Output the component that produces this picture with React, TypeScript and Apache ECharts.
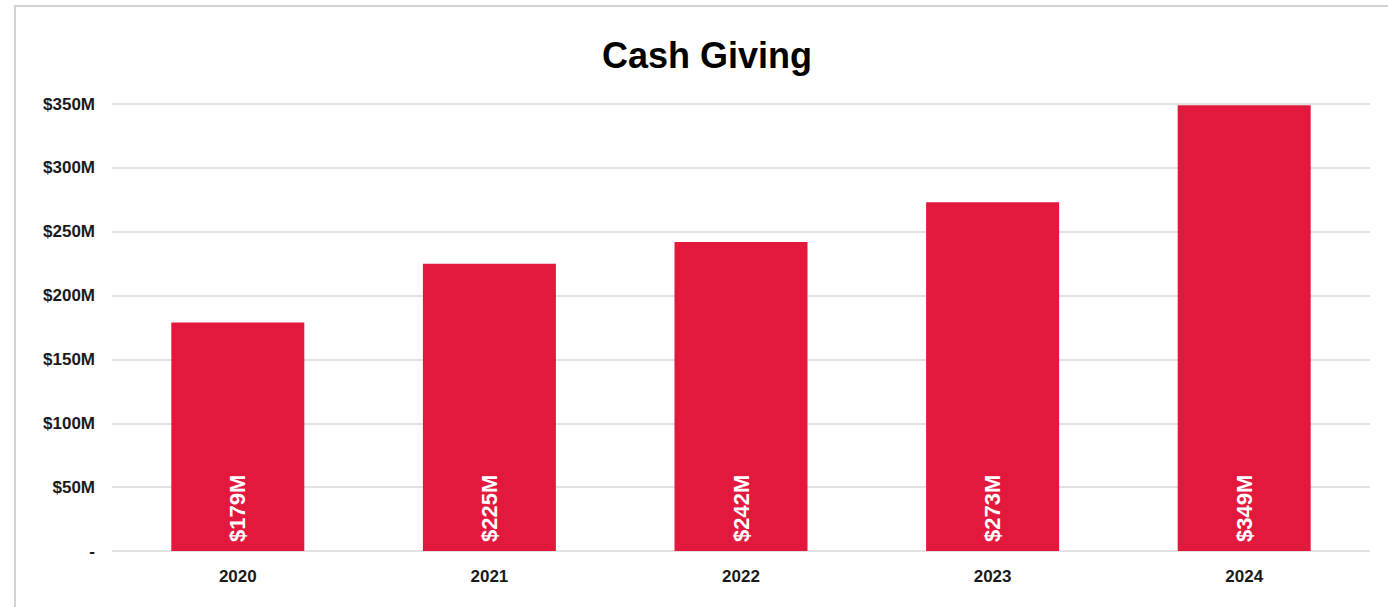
import React, { useEffect, useRef } from "react";
import * as echarts from "echarts";

const categories = ["2020", "2021", "2022", "2023", "2024"];
const cashGiving = [179, 225, 242, 273, 349];
const yTicks = [0, 50, 100, 150, 200, 250, 300, 350];
const yTickLabels = ["-", "$50M", "$100M", "$150M", "$200M", "$250M", "$300M", "$350M"];
const titleText = "Cash Giving";

export default function App() {
  const ref = useRef<HTMLDivElement>(null);
  useEffect(() => {
    if (!ref.current) return;
    const chart = echarts.init(ref.current, null, { renderer: "svg" });
    const font = "Liberation Sans, Arial, Helvetica, sans-serif";
    chart.setOption({
      animation: false,
      backgroundColor: "#ffffff",
      textStyle: { fontFamily: font },
      title: {
        text: titleText,
        left: 702,
        top: 32,
        textAlign: "center",
        textStyle: { fontSize: 36, fontWeight: "bold", color: "#000000", fontFamily: font },
      },
      graphic: [
        {
          type: "rect",
          shape: { x: 15, y: 6, width: 1400, height: 620 },
          style: { fill: "none", stroke: "#d4d4d4", lineWidth: 2 },
          silent: true,
          z: -1,
        },
      ],
      grid: { left: 112, right: 18, top: 104, bottom: 56, containLabel: false },
      xAxis: {
        type: "category",
        data: categories,
        axisLine: { show: false },
        axisTick: { show: false },
        axisLabel: { color: "#1a1a1a", fontSize: 17, fontWeight: "bold", margin: 17, fontFamily: font },
      },
      yAxis: {
        type: "value",
        min: 0,
        max: 350,
        interval: 50,
        axisLine: { show: false },
        axisTick: { show: false },
        splitLine: { lineStyle: { color: "#d9d9d9", width: 1.5 } },
        axisLabel: {
          color: "#1a1a1a",
          fontSize: 17,
          fontWeight: "bold",
          margin: 17,
          fontFamily: font,
          formatter: (v: number) => {
            const i = yTicks.indexOf(v);
            return i >= 0 ? yTickLabels[i] : "";
          },
        },
      },
      series: [
        {
          type: "bar",
          data: cashGiving,
          barWidth: 133,
          itemStyle: { color: "#E2193D" },
          label: {
            show: true,
            position: "insideBottom",
            rotate: 90,
            align: "left",
            verticalAlign: "middle",
            distance: 9,
            color: "#ffffff",
            fontSize: 22,
            fontWeight: "bold",
            fontFamily: font,
            formatter: (p: any) => "$" + p.value + "M",
          },
        },
      ],
    });
    return () => chart.dispose();
  }, []);
  return (
    <div
      ref={ref}
      style={{ position: "fixed", left: 0, top: 0, width: 1388, height: 607 }}
    />
  );
}
